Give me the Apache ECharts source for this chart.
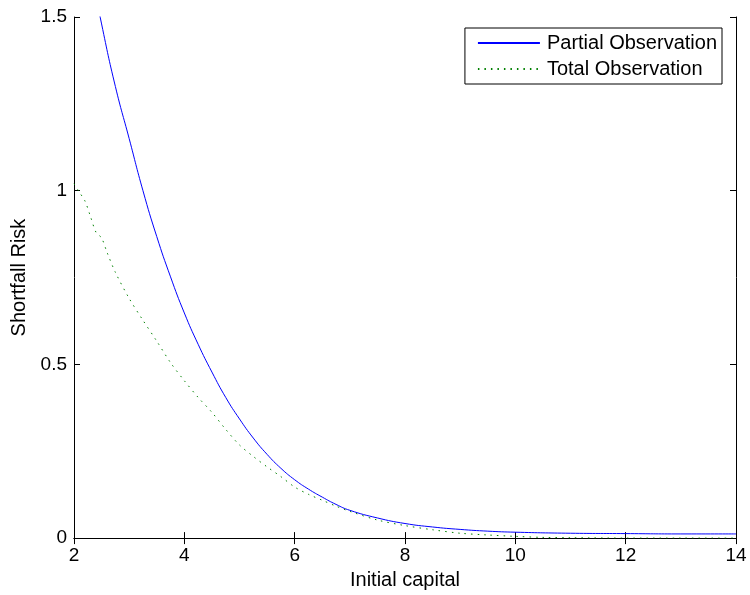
<!DOCTYPE html>
<html>
<head>
<meta charset="utf-8">
<script src="https://cdn.jsdelivr.net/npm/echarts@6/dist/echarts.min.js"></script>
<style>
  html, body { margin: 0; padding: 0; background: #fff; }
  #chart { width: 750px; height: 595px; }
</style>
</head>
<body>
<div id="chart"></div>
<script>
// values
var capital = [2, 2.25, 2.5, 2.75, 3, 3.25, 3.5, 3.75, 4, 4.25, 4.5, 4.75, 5, 5.25, 5.5, 5.75,
  6, 6.25, 6.5, 6.75, 7, 7.5, 8, 8.5, 9, 9.5, 10, 11, 12, 13, 14];
var partialRisk = [1.89, 1.68, 1.48, 1.30, 1.15, 1.00, 0.868, 0.752, 0.648, 0.558, 0.478, 0.405, 0.343, 0.288, 0.241, 0.201,
  0.168, 0.141, 0.118, 0.097, 0.080, 0.058, 0.042, 0.032, 0.025, 0.020, 0.017, 0.014, 0.013, 0.012, 0.012];

var totalCapital = [2, 2.1, 2.2, 2.3, 2.4, 2.5, 2.6, 2.75, 3, 3.25, 3.5, 3.75, 4, 4.25, 4.5, 4.75, 5, 5.25, 5.5, 5.75,
  6, 6.25, 6.5, 6.75, 7, 7.5, 8, 8.5, 9, 9.5, 10, 10.5, 11, 12, 13, 14];
var totalRisk = [1.02, 0.995, 0.97, 0.925, 0.88, 0.864, 0.822, 0.765, 0.69, 0.627, 0.567, 0.505, 0.453, 0.405, 0.362, 0.313,
  0.268, 0.235, 0.205, 0.177, 0.147, 0.126, 0.109, 0.092, 0.077, 0.052, 0.036, 0.024, 0.014, 0.009, 0.005, 0.002, 0.001, 0, 0, 0];

var seriesNames = ['Partial Observation', 'Total Observation'];

function zip(xs, ys) {
    var out = [];
    for (var i = 0; i < xs.length; i++) out.push([xs[i], ys[i]]);
    return out;
}

var chart = echarts.init(document.getElementById('chart'), null, { renderer: 'canvas' });

var font = 'Liberation Sans, Arial, sans-serif';
var axisLine = { show: true, lineStyle: { color: '#000', width: 1 } };
var tick = { show: true, inside: true, length: 6, lineStyle: { color: '#000' } };

var option = {
    backgroundColor: '#fff',
    animation: false,
    textStyle: { fontFamily: font },
    grid: { left: 74, right: 14, top: 17, bottom: 56 },
    legend: {
        data: seriesNames,
        orient: 'vertical',
        right: 28,
        top: 28,
        padding: [5, 5, 5, 12],
        itemGap: 6,
        itemWidth: 62,
        itemHeight: 20,
        backgroundColor: '#fff',
        borderColor: '#000',
        borderWidth: 1,
        itemStyle: { opacity: 0 },
        textStyle: { color: '#000', fontSize: 20, fontFamily: font, padding: [0, 0, 0, 2] }
    },
    xAxis: [{
        type: 'value',
        min: 2,
        max: 14,
        interval: 2,
        name: 'Initial capital',
        nameLocation: 'middle',
        nameGap: 29,
        nameTextStyle: { color: '#000', fontSize: 20 },
        axisLine: axisLine,
        axisTick: tick,
        axisLabel: { color: '#000', fontSize: 19, margin: 8 },
        splitLine: { show: false }
    }, {
        type: 'value',
        position: 'top',
        min: 2,
        max: 14,
        interval: 2,
        axisLine: axisLine,
        axisTick: tick,
        axisLabel: { show: false },
        splitLine: { show: false }
    }],
    yAxis: [{
        type: 'value',
        min: 0,
        max: 1.5,
        interval: 0.5,
        name: 'Shortfall Risk',
        nameLocation: 'middle',
        nameGap: 44,
        nameTextStyle: { color: '#000', fontSize: 20 },
        axisLine: axisLine,
        axisTick: tick,
        axisLabel: { color: '#000', fontSize: 19, margin: 7 },
        splitLine: { show: false }
    }, {
        type: 'value',
        position: 'right',
        min: 0,
        max: 1.5,
        interval: 0.5,
        axisLine: axisLine,
        axisTick: tick,
        axisLabel: { show: false },
        splitLine: { show: false }
    }],
    series: [{
        name: seriesNames[0],
        type: 'line',
        data: zip(capital, partialRisk),
        symbol: 'none',
        smooth: 0.5,
        clip: true,
        lineStyle: { color: '#0000ff', width: 1 },
        itemStyle: { color: '#0000ff' }
    }, {
        name: seriesNames[1],
        type: 'line',
        data: zip(totalCapital, totalRisk),
        symbol: 'none',
        smooth: 0.3,
        clip: true,
        lineStyle: { color: '#008000', width: 1, type: [1.5, 5] },
        itemStyle: { color: '#008000' }
    }]
};

chart.setOption(option);
</script>
</body>
</html>
